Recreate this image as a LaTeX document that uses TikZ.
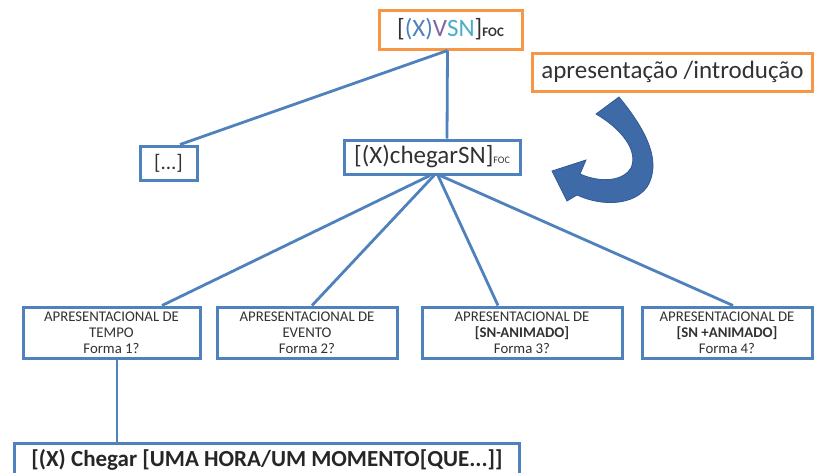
\documentclass[tikz,border=0pt]{standalone}
\usepackage{fontspec}
\setmainfont{Carlito}
\definecolor{lblue}{RGB}{79,129,189}
\definecolor{lorange}{RGB}{247,150,70}
\definecolor{txt}{RGB}{50,50,50}
\definecolor{xblue}{RGB}{79,129,189}
\definecolor{vpurple}{RGB}{128,100,162}
\definecolor{snteal}{RGB}{75,172,198}
\definecolor{arrowfill}{RGB}{62,106,168}
\definecolor{arrowedge}{RGB}{50,90,150}
\begin{document}
\begin{tikzpicture}[x=1pt,y=-1pt,
  box/.style={draw=lblue, line width=3pt, rectangle, inner sep=0pt, text=txt, align=center},
  obox/.style={draw=lorange, line width=3pt, rectangle, inner sep=0pt, text=txt, align=center},
  conn/.style={draw=lblue, line width=2.8pt},
  small/.style={font=\fontsize{14.8}{16}\selectfont}
]
\useasboundingbox (0,0) rectangle (815,472);
\node[obox, minimum width=143pt, minimum height=39pt, font=\fontsize{25}{28}\selectfont] (top) at (450.5,29.5)
  {[{\color{xblue}(X)}{\color{vpurple}V}{\color{snteal}SN}]{\fontsize{13}{14}\selectfont\bfseries FOC}};
\node[obox, minimum width=280pt, minimum height=38pt, font=\fontsize{25}{28}\selectfont] (apres) at (672.5,72)
  {apresentação /introdução};
\node[box, minimum width=57pt, minimum height=34pt, font=\fontsize{21}{24}\selectfont] (dots) at (168.5,163) {[...]};
\node[box, minimum width=176pt, minimum height=34pt, font=\fontsize{25}{28}\selectfont] (cheg) at (432,157)
  {[(X)chegarSN]{\fontsize{10}{11}\selectfont FOC}};
\node[box, small, minimum width=177pt, minimum height=51pt] (b1) at (111.5,332.5)
  {APRESENTACIONAL DE\\TEMPO\\Forma 1?};
\node[box, small, minimum width=180pt, minimum height=51pt] (b2) at (307,332.5)
  {APRESENTACIONAL DE\\EVENTO\\Forma 2?};
\node[box, small, minimum width=200pt, minimum height=51pt] (b3) at (522,332.5)
  {APRESENTACIONAL DE\\\textbf{[SN-ANIMADO]}\\Forma 3?};
\node[box, small, minimum width=170pt, minimum height=51pt] (b4) at (727,332.5)
  {APRESENTACIONAL DE\\\textbf{[SN +ANIMADO]}\\Forma 4?};
\node[box, anchor=north west, minimum width=505pt, text height=16pt, text depth=22pt, inner ysep=7pt,
  font=\fontsize{23}{26}\selectfont\bfseries, text=black!85] (fin) at (13,442)
  {[(X) Chegar [UMA HORA/UM MOMENTO[QUE...]]};
% connectors
\draw[conn] ([xshift=-3pt]top.south) -- ([xshift=15pt]cheg.north);
\draw[conn] ([xshift=-3pt]top.south) -- ([xshift=11.5pt]dots.north);
\draw[conn] ([xshift=-2pt]cheg.south) -- ([xshift=50.5pt]b1.north);
\draw[conn] ([xshift=2pt]cheg.south) -- ([xshift=5pt]b2.north);
\draw[conn] ([xshift=6pt]cheg.south) -- ([xshift=-24pt]b3.north);
\draw[conn] ([xshift=8pt]cheg.south) -- ([xshift=6pt]b4.north);
\draw[conn] ([xshift=5.5pt]b1.south) -- ([xshift=5.5pt]b1.south |- fin.north);
% curved arrow
\fill[arrowfill, draw=arrowedge, line width=0.8pt]
  (619,97) .. controls (642,125) and (664,160) .. (647,187)
  .. controls (634,205) and (603,207) .. (577,195)
  -- (567,201) -- (552,171) -- (586,160) -- (580,174)
  .. controls (603,184) and (624,180) .. (631,168)
  .. controls (639,150) and (620,128) .. (596,114) -- cycle;
\end{tikzpicture}
\end{document}
